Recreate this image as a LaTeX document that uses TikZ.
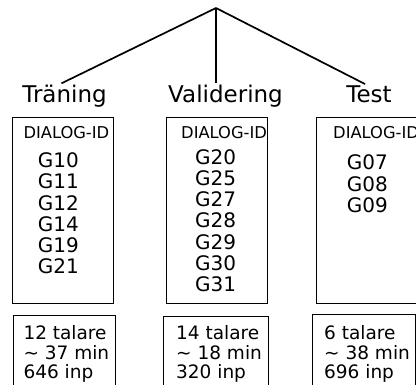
\documentclass[tikz,border=0pt]{standalone}
\usepackage{fontspec}
\setmainfont{DejaVu Sans}
\usetikzlibrary{positioning}
\tikzstyle{set} = [font=\fontsize{23}{26}\selectfont, anchor=base, inner sep=2pt]
\tikzstyle{idbox} = [rectangle, draw=black, line width=1.1pt, minimum width=100.5pt, minimum height=186pt, anchor=north west]
\tikzstyle{idhead} = [font=\fontsize{16.3}{18}\selectfont, anchor=base west, inner sep=0pt]
\tikzstyle{idlist} = [font=\fontsize{20}{21.2}\selectfont, align=left, anchor=base west, inner sep=0pt]
\tikzstyle{infobox} = [rectangle, draw=black, line width=1.1pt, minimum width=102.5pt, minimum height=90pt, anchor=north west]
\tikzstyle{info} = [font=\fontsize{18.5}{19.5}\selectfont, align=left, anchor=base west, inner sep=0pt]
\tikzstyle{branch} = [line width=1.7pt]

\begin{document}
\begin{tikzpicture}[x=1pt, y=-1pt]
\useasboundingbox (0,0) rectangle (416,385);
\coordinate(top) at (216,8);
\node(tr)[set] at (64.5,103) {Träning};
\node(val)[set] at (225.5,103) {Validering};
\node(test)[set] at (369,103) {Test};
\draw[branch] (top) -- ([xshift=-3pt]tr.north);
\draw[branch] (top) -- (top |- val.north);
\draw[branch] (top) -- ([xshift=-4pt]test.north);

% dialog lists, anchored at the last baseline
\node(trbox)[idbox] at (12,117) {};
\node(valbox)[idbox, minimum width=101.5pt] at (165.5,117) {};
\node(testbox)[idbox] at (316,117) {};
\node(trhead)[idhead] at (23.3,138.3) {DIALOG-ID};
\node(valhead)[idhead] at (181,138.5) {DIALOG-ID};
\node(testhead)[idhead] at (333,138.3) {DIALOG-ID};
\node(trid)[idlist] at (37.7,273.7) {G10\\G11\\G12\\G14\\G19\\G21};
\node(valid)[idlist] at (195,291.5) {G20\\G25\\G27\\G28\\G29\\G30\\G31};
\node(testid)[idlist] at (346.7,212.4) {G07\\G08\\G09};

% summaries
\node(trinfo)[infobox] at (12.7,315) {};
\node(valinfo)[infobox, minimum width=105pt] at (162.7,316) {};
\node(testinfo)[infobox] at (312.3,314) {};
\node(trtext)[info] at (23.3,379) {12 talare\\∼ 37 min\\646 inp};
\node(valtext)[info] at (176,379) {14 talare\\∼ 18 min\\320 inp};
\node(testtext)[info] at (324,379) {6 talare\\∼ 38 min\\696 inp};

\end{tikzpicture}
\end{document}
